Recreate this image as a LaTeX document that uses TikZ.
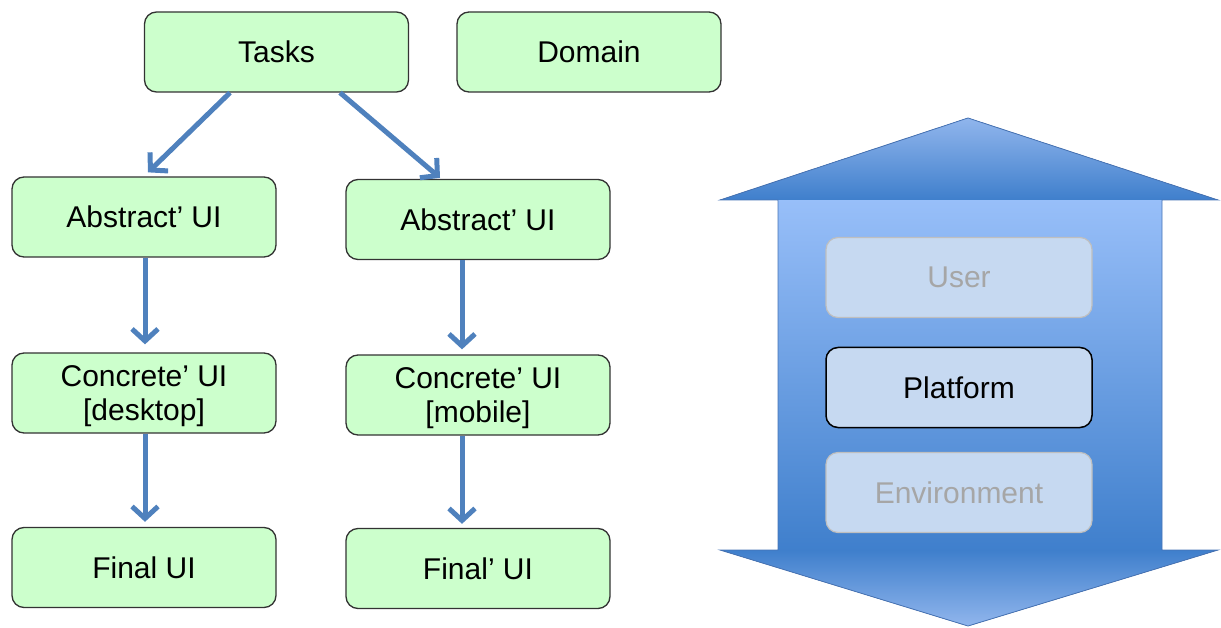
\documentclass[tikz,border=0pt]{standalone}
\usepackage{fontspec}
\setmainfont{Liberation Sans}
\usetikzlibrary{arrows.meta}
\definecolor{boxgreen}{HTML}{CCFFCC}
\definecolor{boxline}{HTML}{333333}
\definecolor{connblue}{HTML}{4F81BD}
\definecolor{lightbar}{HTML}{98BFF9}
\definecolor{darkbar}{HTML}{3F7FCC}
\definecolor{barline}{HTML}{4673B5}
\definecolor{ctxfill}{HTML}{C6D9F1}
\definecolor{ctxline}{HTML}{BFBFBF}
\definecolor{ctxtext}{HTML}{A6A6A6}
\tikzset{
  ui/.style={draw=boxline, line width=1.3pt, fill=boxgreen, rounded corners=12pt,
    minimum width=264pt, minimum height=80pt, inner sep=0pt, align=center,
    font=\fontsize{30}{34}\selectfont, text=black},
  twoline/.style={text depth=0pt},
  conn/.style={draw=connblue, line width=5pt, -{Straight Barb[length=12pt,width=26pt]}},
  ctx/.style={fill=ctxfill, rounded corners=12pt, minimum width=266pt, minimum height=80pt,
    inner sep=0pt, font=\fontsize{30}{34}\selectfont},
  ctxfaint/.style={ctx, draw=ctxline, line width=1.2pt, text=ctxtext},
  ctxmain/.style={ctx, draw=black, line width=1.5pt, text=black},
}
\begin{document}
\begin{tikzpicture}[x=1pt,y=-1pt]
\useasboundingbox (0,0) rectangle (1221,628);
% left graph
\node[ui] (tasks) at (276.5,52) {Tasks};
\node[ui] (domain) at (589,52) {Domain};
\node[ui] (absL) at (144,217) {Abstract’ UI};
\node[ui] (absR) at (478,219.5) {Abstract’ UI};
\node[ui, twoline] (concL) at (144,393) {Concrete’ UI\\[0pt][desktop]};
\node[ui, twoline] (concR) at (478,395) {Concrete’ UI\\[0pt][mobile]};
\node[ui] (finL) at (144,567.5) {Final UI};
\node[ui] (finR) at (478,568.5) {Final’ UI};
\draw[conn] ([xshift=-46.5pt]tasks.south) -- ([xshift=4pt,yshift=4pt]absL.north);
\draw[conn] ([xshift=63.5pt]tasks.south) -- ([xshift=-38pt,yshift=1pt]absR.north);
\draw[conn] ([xshift=1pt]absL.south) -- ([xshift=1pt,yshift=8pt]concL.north);
\draw[conn] ([xshift=1pt]concL.south) -- ([xshift=1pt,yshift=5pt]finL.north);
\draw[conn] ([xshift=-16pt]absR.south) -- ([xshift=-16pt,yshift=5pt]concR.north);
\draw[conn] ([xshift=-16pt]concR.south) -- ([xshift=-16pt,yshift=4pt]finR.north);
% double arrow
\fill[top color=lightbar, bottom color=darkbar] (778,199) rectangle (1162,551);
\fill[top color=lightbar!95!black, bottom color=darkbar] (720,200) -- (968,118) -- (1218,200) -- cycle;
\fill[top color=darkbar, bottom color=lightbar!95!black] (720,550) -- (1218,550) -- (968,626) -- cycle;
\draw[barline, line width=0.8pt, line join=miter]
  (968,118) -- (1218,200) -- (1162,200) -- (1162,550) -- (1218,550) -- (968,626)
  -- (720,550) -- (778,550) -- (778,200) -- (720,200) -- cycle;
\node[ctxfaint] (user) at (959,277.5) {User};
\node[ctxmain] (platform) at (959,387.5) {Platform};
\node[ctxfaint] (env) at (959,492.5) {Environment};
\end{tikzpicture}
\end{document}
